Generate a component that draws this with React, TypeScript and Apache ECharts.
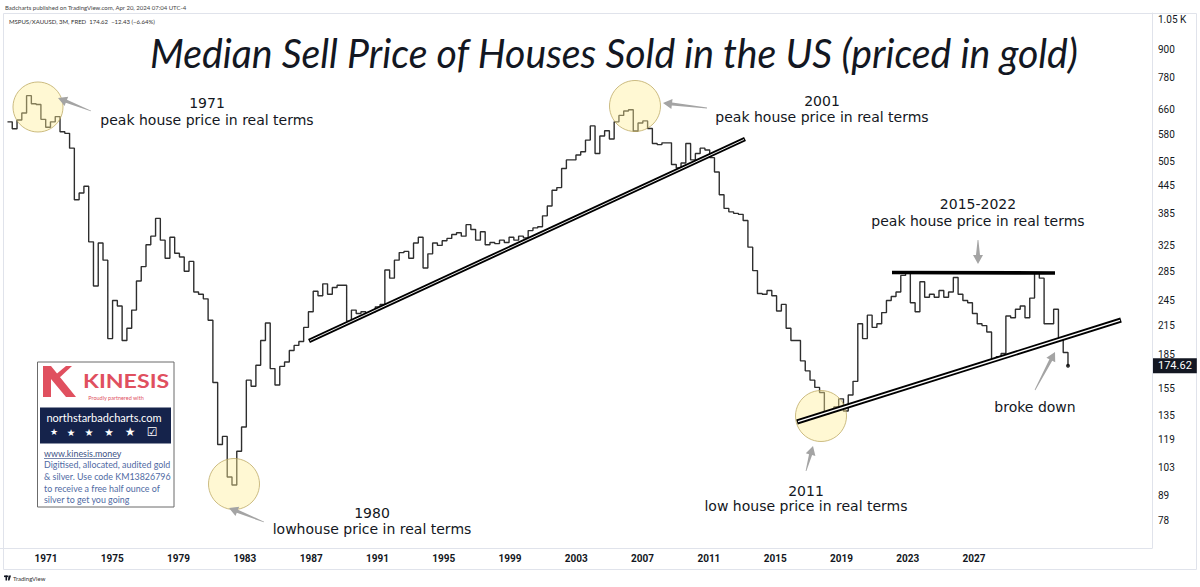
import React, { useEffect, useRef } from "react";
import * as echarts from "echarts";

// Quarterly bars (3M), first bar Q4 1968, last bar Q2 2024 (partial)
const startYear = 1968.75;
const ratio: number[] = [
  619, 597, 625, 648, 709, 680, 677, 627, 602, 619,
  636, 588, 583, 540, 413, 428, 443, 332, 264, 330,
  302, 201, 245, 238, 199, 212, 233, 271, 292, 327,
  342, 375, 335, 305, 340, 313, 307, 285, 300, 256,
  253, 247, 221, 160, 116, 121, 98, 94, 112, 127,
  162, 157, 175, 199, 218, 172, 158, 174, 178, 189,
  194, 198, 213, 231, 257, 251, 267, 253, 262, 265,
  265, 220, 233, 229, 231, 229, 231, 237, 240, 287,
  275, 302, 314, 316, 305, 330, 340, 290, 312, 330,
  326, 334, 338, 345, 348, 342, 363, 354, 335, 350,
  327, 331, 329, 335, 331, 340, 335, 342, 339, 352,
  357, 359, 380, 400, 434, 440, 486, 508, 508, 521,
  530, 563, 606, 525, 575, 591, 566, 619, 640, 655,
  659, 590, 615, 622, 598, 553, 550, 555, 555, 496,
  487, 500, 553, 508, 525, 540, 535, 514, 477, 424,
  395, 388, 385, 383, 371, 323, 286, 254, 253, 258,
  251, 232, 240, 212, 199, 199, 179, 170, 162, 156,
  152, 136, 138, 141, 147, 138, 150, 161, 217, 201,
  227, 213, 217, 230, 245, 250, 256, 279, 282, 242,
  231, 270, 249, 253, 249, 258, 249, 256, 276, 253,
  245, 242, 229, 217, 215, 208, 180, 183, 186, 226,
  224, 234, 238, 224, 248, 282, 275, 217, 217, 234,
  202, 187.05, 174.62,
];
const yTicks = [78, 89, 103, 119, 135, 155, 185, 215, 245, 285, 325, 385, 445, 505, 580, 660, 780, 900, 1050];
const xTickYears = [1971, 1975, 1979, 1983, 1987, 1991, 1995, 1999, 2003, 2007, 2011, 2015, 2019, 2023, 2027];

const TITLE = "Median Sell Price of Houses Sold in the US (priced in gold)";

function arrowPoints(tip: number[], tail: number[], headLen = 9, headHalf = 5, shaftHalf = 1.6) {
  const dx = tail[0] - tip[0];
  const dy = tail[1] - tip[1];
  const L = Math.hypot(dx, dy);
  const ux = dx / L, uy = dy / L;
  const nx = -uy, ny = ux;
  const hb = [tip[0] + ux * headLen, tip[1] + uy * headLen];
  return [
    tip,
    [hb[0] + nx * headHalf, hb[1] + ny * headHalf],
    [hb[0] + nx * shaftHalf, hb[1] + ny * shaftHalf],
    [tail[0] + nx * 0.4, tail[1] + ny * 0.4],
    [tail[0] - nx * 0.4, tail[1] - ny * 0.4],
    [hb[0] - nx * shaftHalf, hb[1] - ny * shaftHalf],
    [hb[0] - nx * headHalf, hb[1] - ny * headHalf],
  ];
}

function txt(x: number, y: number, text: string, size: number, extra: any = {}) {
  return {
    type: "text",
    x,
    y,
    z: 20,
    style: {
      text,
      fill: extra.fill || "#131722",
      fontSize: size,
      fontFamily: extra.fontFamily || "DejaVu Sans",
      fontWeight: extra.fontWeight || "normal",
      fontStyle: extra.fontStyle || "normal",
      textAlign: extra.align || "center",
      align: extra.align || "center",
      textVerticalAlign: "middle",
      verticalAlign: "middle",
    },
  };
}

export default function App() {
  const ref = useRef<HTMLDivElement>(null);
  useEffect(() => {
    const chart = echarts.init(ref.current!, null, { renderer: "svg" });
    const seriesData = ratio.map((v, i) => [startYear + i / 4, v]);
    const last = seriesData[seriesData.length - 1];

    const circleStyle = { fill: "rgba(255,238,150,0.42)", stroke: "rgba(185,165,95,0.75)", lineWidth: 1 };
    const arrowStyle = { fill: "#a4a4a4" };
    const blue = "#4f6aa3";
    const boxFont = 8.9;

    const graphics: any[] = [
      // frame
      { type: "rect", z: 1, shape: { x: 3.5, y: 13.5, width: 1193, height: 556 }, style: { fill: "none", stroke: "#e0e3eb", lineWidth: 1 } },
      // header
      txt(5, 7, "Badcharts published on TradingView.com, Apr 20, 2024 07:04 UTC-4", 6, { align: "left", fill: "#444", fontFamily: "Lato" }),
      txt(9, 21, "MSPUS/XAUUSD, 3M, FRED  174.62  \u221212.43 (\u22126.64%)", 6, { align: "left", fill: "#333", fontFamily: "Lato" }),
      // title
      {
        type: "group",
        x: 614,
        y: 52,
        scaleX: 0.98,
        z: 20,
        children: [txt(0, 0, TITLE, 40, { fontFamily: "Lato", fontStyle: "italic" })],
      },
      // circles
      { type: "circle", z: 12, shape: { cx: 38, cy: 107, r: 25 }, style: circleStyle },
      { type: "circle", z: 12, shape: { cx: 635, cy: 106, r: 25.5 }, style: circleStyle },
      { type: "circle", z: 12, shape: { cx: 234, cy: 484, r: 25.5 }, style: circleStyle },
      { type: "circle", z: 12, shape: { cx: 821, cy: 416, r: 25.5 }, style: circleStyle },
      // arrows
      { type: "polygon", z: 13, shape: { points: arrowPoints([58, 98], [91, 111]) }, style: arrowStyle },
      { type: "polygon", z: 13, shape: { points: arrowPoints([663, 103], [707, 108]) }, style: arrowStyle },
      { type: "polygon", z: 13, shape: { points: arrowPoints([229, 508], [264, 522]) }, style: arrowStyle },
      { type: "polygon", z: 13, shape: { points: arrowPoints([813, 446], [806, 471]) }, style: arrowStyle },
      { type: "polygon", z: 13, shape: { points: arrowPoints([978, 264], [978, 240], 9, 5, 2) }, style: arrowStyle },
      { type: "polygon", z: 13, shape: { points: arrowPoints([1055, 352], [1035, 390]) }, style: arrowStyle },
      // trend lines
      { type: "line", z: 14, shape: { x1: 309, y1: 341, x2: 745, y2: 139 }, style: { stroke: "#000", lineWidth: 4.5 } },
      { type: "line", z: 15, shape: { x1: 310, y1: 340.5, x2: 744, y2: 139.5 }, style: { stroke: "#fff", lineWidth: 0.9 } },
      { type: "line", z: 14, shape: { x1: 797, y1: 422, x2: 1121, y2: 320 }, style: { stroke: "#000", lineWidth: 5 } },
      { type: "line", z: 15, shape: { x1: 798, y1: 421.7, x2: 1120, y2: 320.3 }, style: { stroke: "#fff", lineWidth: 1.4 } },
      { type: "line", z: 14, shape: { x1: 892, y1: 272.5, x2: 1055, y2: 273 }, style: { stroke: "#000", lineWidth: 3.6 } },
      // annotations
      txt(207, 103, "1971", 14),
      txt(207, 120, "peak house price in real terms", 14),
      txt(822, 101, "2001", 14),
      txt(822, 117, "peak house price in real terms", 14),
      txt(978, 204, "2015-2022", 14),
      txt(978, 221, "peak house price in real terms", 14),
      txt(1035, 407, "broke down", 14),
      txt(806, 491, "2011", 14),
      txt(806, 506, "low house price in real terms", 14),
      txt(372, 513, "1980", 14),
      txt(372, 529, "lowhouse price in real terms", 14),
      // Kinesis box
      { type: "rect", z: 16, shape: { x: 37.5, y: 362, width: 136.5, height: 145 }, style: { fill: "#fff", stroke: "#6b6b6b", lineWidth: 1 } },
      { type: "polygon", z: 17, shape: { points: [[43, 366], [51, 366], [76, 397], [66, 397], [51, 379], [51, 397], [43, 397]] }, style: { fill: "#e0505f" } },
      { type: "polygon", z: 17, shape: { points: [[54, 376], [66, 366], [72, 366], [57, 380]] }, style: { fill: "#e0505f" } },
      {
        type: "group",
        x: 83,
        y: 381,
        scaleX: 1.22,
        z: 17,
        children: [txt(0, 0, "KINESIS", 19, { align: "left", fill: "#e0505f", fontFamily: "Lato", fontWeight: "bold" })],
      },
      txt(116, 397.5, "Proudly partnered with", 5.5, { fill: "#e0505f", fontFamily: "Lato" }),
      { type: "rect", z: 17, shape: { x: 40, y: 407.5, width: 131, height: 36 }, style: { fill: "#15234b" } },
      txt(104, 417.5, "northstarbadcharts.com", 11, { fill: "#fff", fontFamily: "Lato" }),
      txt(54, 432, "\u2605", 9, { fill: "#fff" }),
      txt(71, 432, "\u2605", 9.5, { fill: "#fff" }),
      txt(89, 432, "\u2605", 10, { fill: "#fff" }),
      txt(109, 432, "\u2605", 10.5, { fill: "#fff" }),
      txt(130, 432, "\u2605", 12, { fill: "#fff" }),
      txt(152, 432, "\u2611", 12, { fill: "#fff" }),
      txt(44, 453.3, "www.kinesis.money", boxFont, { align: "left", fill: "#3d5286", fontFamily: "Lato" }),
      { type: "line", z: 18, shape: { x1: 44, y1: 458.5, x2: 118, y2: 458.5 }, style: { stroke: "#3d5286", lineWidth: 0.7 } },
      txt(44, 464.8, "Digitised, allocated, audited gold", boxFont, { align: "left", fill: blue, fontFamily: "Lato" }),
      txt(44, 476.5, "& silver. Use code KM13826796", boxFont, { align: "left", fill: blue, fontFamily: "Lato" }),
      txt(44, 488.2, "to receive a free half ounce of", boxFont, { align: "left", fill: blue, fontFamily: "Lato" }),
      txt(44, 499.5, "silver to get you going", boxFont, { align: "left", fill: blue, fontFamily: "Lato" }),
      // footer logo
      { type: "rect", z: 20, shape: { x: 4, y: 575.5, width: 4, height: 1.6 }, style: { fill: "#131722" } },
      { type: "rect", z: 20, shape: { x: 5.5, y: 575.5, width: 1.6, height: 5 }, style: { fill: "#131722" } },
      { type: "polygon", z: 20, shape: { points: [[8.5, 575.5], [11, 575.5], [9.5, 580.5], [8, 580.5]] }, style: { fill: "#131722" } },
      txt(13, 578, "TradingView", 6, { align: "left", fill: "#333", fontFamily: "Lato" }),
    ];

    chart.setOption({
      animation: false,
      backgroundColor: "#ffffff",
      grid: { left: 0, right: 48, top: 13, bottom: 39, containLabel: false },
      xAxis: [
        { type: "value", min: 1968.359, max: 2028.647, show: false },
        {
          type: "value",
          min: 1968.224,
          max: 2037.74,
          position: "bottom",
          axisLine: { show: true, lineStyle: { color: "#e0e3eb" } },
          axisTick: { show: false },
          splitLine: { show: false },
          axisLabel: {
            customValues: xTickYears,
            formatter: (v: number) => String(Math.round(v)),
            color: "#131722",
            fontSize: 10,
            fontWeight: "bold",
            fontFamily: "Roboto",
            margin: 5,
          },
        },
      ],
      yAxis: {
        type: "log",
        min: 67.8,
        max: 1088.8,
        position: "right",
        axisLine: { show: true, lineStyle: { color: "#e0e3eb" } },
        axisTick: { show: false },
        splitLine: { show: false },
        axisLabel: {
          customValues: yTicks,
          formatter: (v: number) => (v >= 1000 ? (v / 1000).toFixed(2) + " K" : String(Math.round(v))),
          color: "#131722",
          fontSize: 10,
          fontFamily: "Roboto",
          margin: 6,
        },
      },
      series: [
        {
          type: "line",
          xAxisIndex: 0,
          step: "end",
          data: seriesData,
          showSymbol: false,
          lineStyle: { color: "#2e2e2e", width: 1.4 },
          z: 3,
          markLine: {
            silent: true,
            symbol: ["none", "none"],
            lineStyle: { color: "rgba(0,0,0,0)", width: 1, type: "solid" },
            data: [{ yAxis: last[1] }],
            label: {
              show: true,
              position: "end",
              formatter: () => (last[1] as number).toFixed(2),
              backgroundColor: "#131722",
              color: "#ffffff",
              opacity: 1,
              padding: [2, 5, 2, 5],
              fontSize: 11,
              fontFamily: "Roboto",
              distance: 1,
            },
          },
        },
        {
          type: "scatter",
          xAxisIndex: 0,
          data: [last],
          symbolSize: 4,
          itemStyle: { color: "#000" },
          z: 4,
        },
      ],
      graphic: graphics,
    });
    return () => chart.dispose();
  }, []);
  return (
    <div
      ref={ref}
      style={{ position: "fixed", left: 0, top: 0, width: 1200, height: 587, background: "#fff" }}
    />
  );
}
